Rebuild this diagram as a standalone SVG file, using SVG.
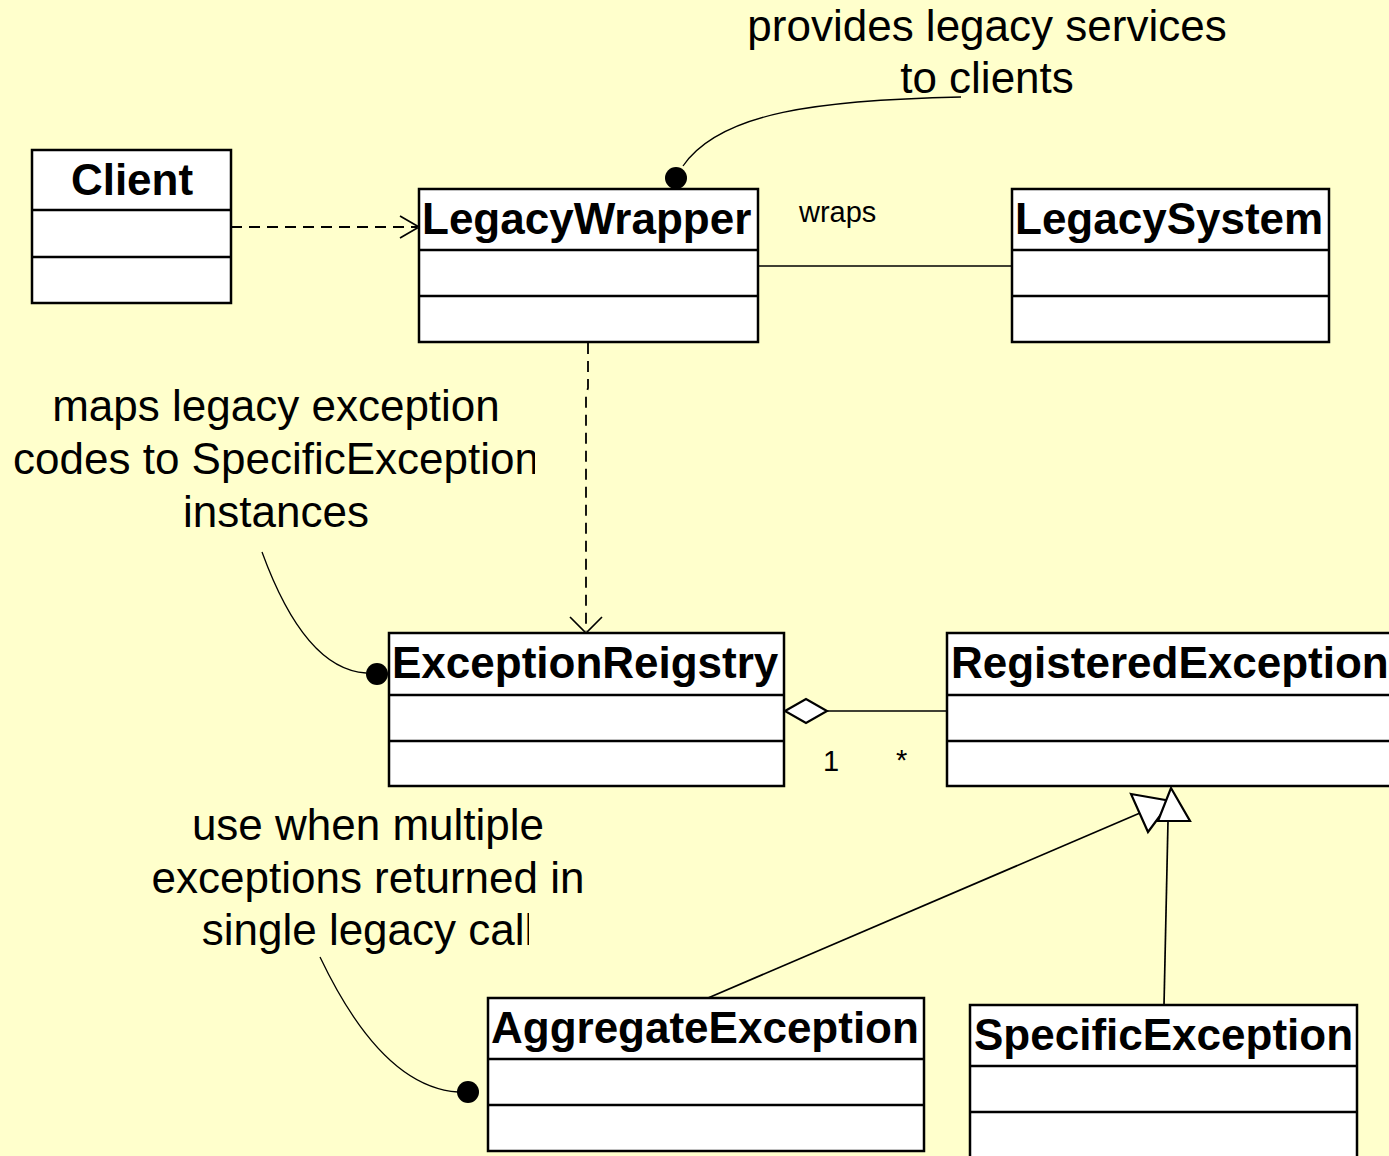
<svg xmlns="http://www.w3.org/2000/svg" width="1389" height="1156" viewBox="0 0 1389 1156">
<style>
.box{fill:#fff;stroke:#000;stroke-width:2.5}
.div{stroke:#000;stroke-width:2.5}
.title{font-family:"Liberation Sans",Arial,sans-serif;font-weight:bold;font-size:44px;fill:#000}
.note{font-family:"Liberation Sans",Arial,sans-serif;font-size:44px;fill:#000;text-anchor:middle}
.lbl{font-family:"Liberation Sans",Arial,sans-serif;font-size:29px;fill:#000}
.dash{fill:none;stroke:#000;stroke-width:1.8;stroke-dasharray:11 7}
.solid{fill:none;stroke:#000;stroke-width:1.7}
.nl{fill:none;stroke:#000;stroke-width:1.3}
.open{fill:none;stroke:#000;stroke-width:1.7}
.hollow{fill:#fff;stroke:#000;stroke-width:2.2;stroke-linejoin:miter}
</style>
<defs>
<clipPath id="c1"><rect x="0" y="430" width="535" height="60"/></clipPath>
<clipPath id="c2"><rect x="0" y="900" width="529" height="60"/></clipPath>
</defs>
<rect width="1389" height="1156" fill="#ffffcc"/>

<g id="notes">
<text class="note" x="987" y="41">provides legacy services</text>
<text class="note" x="987" y="93">to clients</text>
<text class="note" x="276" y="421">maps legacy exception</text>
<text class="note" x="276" y="474" clip-path="url(#c1)">codes to SpecificException</text>
<text class="note" x="276" y="527">instances</text>
<text class="note" x="368" y="840">use when multiple</text>
<text class="note" x="368" y="893">exceptions returned in</text>
<text class="note" x="368" y="945" clip-path="url(#c2)">single legacy call</text>
</g>

<g id="connectors">
<path class="dash" d="M231,227 H417"/>
<path class="open" d="M400,216 L419,227 L400,238"/>
<path class="dash" d="M588,343 V388 L586,394 V631"/>
<path class="open" d="M570,617 L586,633 L602,617"/>
<path class="solid" d="M758,266 H1012"/>
<text class="lbl" x="799" y="222">wraps</text>
<path class="solid" d="M827,711 H947"/>
<path class="hollow" d="M785,711 L806,699 L827,711 L806,723 Z" stroke-width="2"/>
<text class="lbl" x="823" y="771">1</text>
<text class="lbl" x="896" y="770">*</text>
<path class="solid" d="M708,998 L1140,813"/>
<path class="solid" d="M1164,1005 L1168,821"/>
<path class="hollow" d="M1131,794 L1171,801 L1148,832 Z"/>
<path class="hollow" d="M1171,788 L1190,821 L1158,821 Z"/>
<path class="nl" d="M961,97 C820,100 720,112 683,166"/>
<circle cx="676" cy="178" r="11" fill="#000"/>
<path class="nl" d="M262,552 C285,615 318,670 366,673"/>
<circle cx="377" cy="674" r="11" fill="#000"/>
<path class="nl" d="M320,957 C350,1020 395,1088 458,1092"/>
<circle cx="468" cy="1092" r="11" fill="#000"/>
</g>

<g id="Client">
<rect class="box" x="32" y="150" width="199" height="153"/>
<line class="div" x1="32" y1="210" x2="231" y2="210"/>
<line class="div" x1="32" y1="257" x2="231" y2="257"/>
<text class="title" x="132" y="195" text-anchor="middle">Client</text>
</g>

<g id="LegacyWrapper">
<rect class="box" x="419" y="189" width="339" height="153"/>
<line class="div" x1="419" y1="250" x2="758" y2="250"/>
<line class="div" x1="419" y1="296" x2="758" y2="296"/>
<text class="title" x="422" y="234">LegacyWrapper</text>
</g>

<g id="LegacySystem">
<rect class="box" x="1012" y="189" width="317" height="153"/>
<line class="div" x1="1012" y1="250" x2="1329" y2="250"/>
<line class="div" x1="1012" y1="296" x2="1329" y2="296"/>
<text class="title" x="1015" y="234">LegacySystem</text>
</g>

<g id="ExceptionReigstry">
<rect class="box" x="389" y="633" width="395" height="153"/>
<line class="div" x1="389" y1="695" x2="784" y2="695"/>
<line class="div" x1="389" y1="741" x2="784" y2="741"/>
<text class="title" x="392" y="678">ExceptionReigstry</text>
</g>

<g id="RegisteredException">
<rect class="box" x="947" y="633" width="460" height="153"/>
<line class="div" x1="947" y1="695" x2="1407" y2="695"/>
<line class="div" x1="947" y1="741" x2="1407" y2="741"/>
<text class="title" x="951" y="678">RegisteredException</text>
</g>

<g id="AggregateException">
<rect class="box" x="488" y="998" width="436" height="153"/>
<line class="div" x1="488" y1="1059" x2="924" y2="1059"/>
<line class="div" x1="488" y1="1105" x2="924" y2="1105"/>
<text class="title" x="491" y="1043">AggregateException</text>
</g>

<g id="SpecificException">
<rect class="box" x="970" y="1005" width="387" height="170"/>
<line class="div" x1="970" y1="1066" x2="1357" y2="1066"/>
<line class="div" x1="970" y1="1112" x2="1357" y2="1112"/>
<text class="title" x="974" y="1050">SpecificException</text>
</g>
</svg>
